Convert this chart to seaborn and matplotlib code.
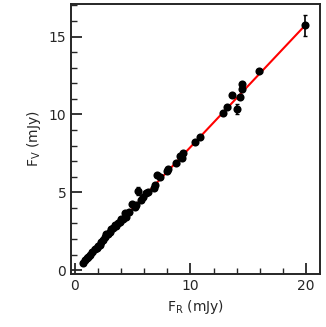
import numpy as np
import pandas as pd
import matplotlib
matplotlib.use("Agg")
import matplotlib.pyplot as plt
import seaborn as sns
from matplotlib.ticker import MultipleLocator

# flux pairs (mJy)
f_r = [0.72, 0.9, 1.07, 1.2, 1.36, 1.55, 1.73, 1.9, 2.05, 2.16, 2.31, 2.45, 2.6, 2.74,
       2.9, 3.03, 3.17, 3.3, 3.46, 3.6, 3.75, 3.9, 4.04, 4.2, 4.33, 4.47, 4.68, 4.99,
       5.19, 5.33, 5.45, 5.77, 5.92, 6.2, 6.32, 6.84, 6.98, 7.16, 7.36, 7.99, 8.08,
       8.8, 9.1, 9.3, 9.38, 10.4, 10.85, 12.8, 13.2, 13.6, 14.0, 14.3, 14.48, 14.48,
       15.96, 19.9]
f_v = [0.47, 0.62, 0.75, 0.86, 0.97, 1.15, 1.33, 1.45, 1.58, 1.61, 1.82, 1.95, 2.1, 2.32,
       2.35, 2.47, 2.62, 2.7, 2.9, 2.85, 3.05, 3.1, 3.26, 3.3, 3.65, 3.39, 3.76, 4.25,
       4.04, 4.19, 5.09, 4.5, 4.72, 4.94, 5.04, 5.26, 5.47, 6.1, 5.99, 6.35, 6.48,
       6.85, 7.34, 7.19, 7.51, 8.22, 8.54, 10.1, 10.47, 11.25, 10.35, 11.12, 11.65, 11.96,
       12.81, 15.73]
f_v_err = [0.0] * len(f_v)
f_v_err[30] = 0.25
f_v_err[50] = 0.3
f_v_err[-1] = 0.67

slope = 0.79
fit_x = [0.6, 20.0]

df = pd.DataFrame({"FR": f_r, "FV": f_v, "err": f_v_err})
fit_df = pd.DataFrame({"FR": fit_x, "FV": [slope * x for x in fit_x]})

sns.set_style("ticks")
plt.rcParams["font.family"] = ["DejaVu Sans"]

fig = plt.figure(figsize=(3.26, 3.27), dpi=100)
ax = fig.add_axes([0.218, 0.162, 0.764, 0.826])

sns.lineplot(data=fit_df, x="FR", y="FV", color="red", linewidth=1.5, ax=ax, zorder=1)
ax.errorbar(df["FR"], df["FV"], yerr=df["err"], xerr=0.18, fmt="none",
            ecolor="black", elinewidth=1.2, capsize=1.5, zorder=2)
sns.scatterplot(data=df, x="FR", y="FV", color="black", s=34, edgecolor="black",
                linewidth=0, ax=ax, zorder=3)

ax.set_xlim(-0.3, 21.2)
ax.set_ylim(-0.25, 17.1)
ax.xaxis.set_major_locator(MultipleLocator(10))
ax.xaxis.set_minor_locator(MultipleLocator(2))
ax.yaxis.set_major_locator(MultipleLocator(5))
ax.yaxis.set_minor_locator(MultipleLocator(1))
ax.tick_params(which="major", direction="in", length=8, width=1.3, labelsize=10)
ax.tick_params(which="minor", direction="in", length=4, width=1.0)
for sp in ax.spines.values():
    sp.set_linewidth(1.4)
    sp.set_visible(True)

ax.set_xlabel(r"F$_{\rm R}$ (mJy)", fontsize=10)
ax.set_ylabel(r"F$_{\rm V}$ (mJy)", fontsize=10)

fig.savefig("out.png", dpi=100)
